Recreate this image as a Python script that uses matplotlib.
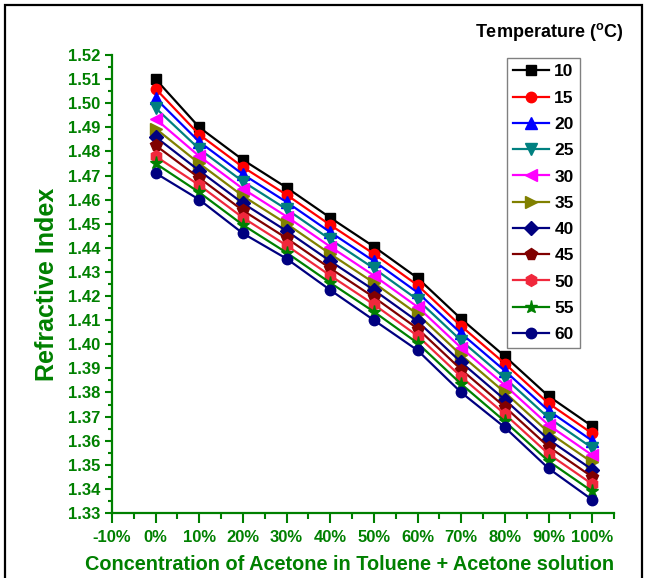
import matplotlib.pyplot as plt
import matplotlib.patches as patches
from matplotlib.ticker import MultipleLocator, FuncFormatter

plt.rcParams['font.family'] = ['Liberation Sans', 'DejaVu Sans']
plt.rcParams['mathtext.fontset'] = 'custom'
plt.rcParams['mathtext.bf'] = 'Liberation Sans:bold'
plt.rcParams['mathtext.rm'] = 'Liberation Sans'

conc = [0, 10, 20, 30, 40, 50, 60, 70, 80, 90, 100]
temps = ['10', '15', '20', '25', '30', '35', '40', '45', '50', '55', '60']

ri_10 = [1.510, 1.490, 1.4765, 1.465, 1.4525, 1.4405, 1.4275, 1.4105, 1.395, 1.3785, 1.366]
ri_15 = [1.506, 1.487, 1.4735, 1.462, 1.4495, 1.4375, 1.4245, 1.4075, 1.392, 1.3755, 1.363]
ri_20 = [1.502, 1.484, 1.4705, 1.459, 1.4465, 1.4345, 1.4215, 1.4045, 1.389, 1.3725, 1.360]
ri_25 = [1.498, 1.481, 1.4675, 1.456, 1.4435, 1.4315, 1.4185, 1.4015, 1.386, 1.3695, 1.357]
ri_30 = [1.4935, 1.478, 1.4645, 1.453, 1.4405, 1.4285, 1.4155, 1.3985, 1.383, 1.3665, 1.354]
ri_35 = [1.4895, 1.475, 1.4615, 1.450, 1.4375, 1.4255, 1.4125, 1.3955, 1.380, 1.3635, 1.351]
ri_40 = [1.486, 1.472, 1.4585, 1.447, 1.4345, 1.4225, 1.4095, 1.3925, 1.377, 1.3605, 1.348]
ri_45 = [1.4825, 1.469, 1.4555, 1.444, 1.4315, 1.4195, 1.4065, 1.3895, 1.374, 1.3575, 1.345]
ri_50 = [1.478, 1.466, 1.4525, 1.441, 1.4285, 1.4165, 1.4035, 1.3865, 1.371, 1.3545, 1.342]
ri_55 = [1.475, 1.463, 1.4495, 1.438, 1.4255, 1.4135, 1.4005, 1.3835, 1.368, 1.3515, 1.339]
ri_60 = [1.471, 1.460, 1.446, 1.4355, 1.4225, 1.410, 1.3975, 1.380, 1.3655, 1.3485, 1.3355]

series = [ri_10, ri_15, ri_20, ri_25, ri_30, ri_35, ri_40, ri_45, ri_50, ri_55, ri_60]
colors = ['black', '#ff0000', '#0000ff', '#008080', '#ff00ff', '#808000',
          '#000080', '#800000', '#f0283c', '#008000', '#000080']
markers = ['s', 'o', '^', 'v', '<', '>', 'D', 'p', 'h', '*', 'o']
sizes = [7.5, 7.5, 8.5, 8.5, 8.5, 8.5, 7, 8.5, 8.5, 9.5, 7.5]

green = '#008000'

fig = plt.figure(figsize=(6.48, 5.78), dpi=100)
ax = fig.add_axes([0.1728, 0.1125, 0.7747, 0.7923])

for vals, c, m, s, t in zip(series, colors, markers, sizes, temps):
    ax.plot(conc, vals, color=c, marker=m, markersize=s, linewidth=1.6,
            markeredgecolor=c, label=t)

ax.set_xlim(-10, 105)
ax.set_ylim(1.33, 1.52)
ax.xaxis.set_major_locator(MultipleLocator(10))
ax.xaxis.set_minor_locator(MultipleLocator(5))
ax.yaxis.set_major_locator(MultipleLocator(0.01))
ax.yaxis.set_minor_locator(MultipleLocator(0.005))
ax.xaxis.set_major_formatter(FuncFormatter(lambda v, p: '%d%%' % round(v)))
ax.yaxis.set_major_formatter(FuncFormatter(lambda v, p: '%.2f' % v))

for side in ['top', 'right']:
    ax.spines[side].set_visible(False)
for side in ['left', 'bottom']:
    ax.spines[side].set_color(green)
    ax.spines[side].set_linewidth(1.6)

ax.tick_params(which='both', colors=green, width=1.5, direction='out')
ax.tick_params(which='major', length=5, labelsize=12)
ax.tick_params(which='minor', length=3)
ax.tick_params(axis='x', which='major', length=7, pad=5)
ax.tick_params(axis='x', which='minor', length=4)
for lbl in ax.get_xticklabels() + ax.get_yticklabels():
    lbl.set_fontweight('bold')

ax.set_ylabel('Refractive Index', color=green, fontsize=18, fontweight='bold', labelpad=6)
fig.text(350 / 648, 1 - 565 / 578, 'Concentration of Acetone in Toluene + Acetone solution',
         color=green, fontsize=14.3, fontweight='bold', ha='center', va='center')

leg = ax.legend(loc='upper right', bbox_to_anchor=(0.932, 0.993), borderaxespad=0,
                fancybox=False, edgecolor='gray', prop={'weight': 'bold', 'size': 12.5},
                handlelength=2.1, labelspacing=0.64, handletextpad=0.3,
                borderpad=0.35, framealpha=1)
leg.get_frame().set_linewidth(1.0)

fig.text(0.733, 1 - 32 / 578, r'Temperature ($\mathbf{^o}$C)', fontsize=13,
         fontweight='bold', color='black', va='center')

frame = patches.Rectangle((5 / 648, -0.05), 637 / 648, 1.05 - 5 / 578,
                          transform=fig.transFigure, fill=False,
                          edgecolor='black', linewidth=1.6, clip_on=False)
fig.patches.append(frame)

fig.savefig('out.png', dpi=100)
